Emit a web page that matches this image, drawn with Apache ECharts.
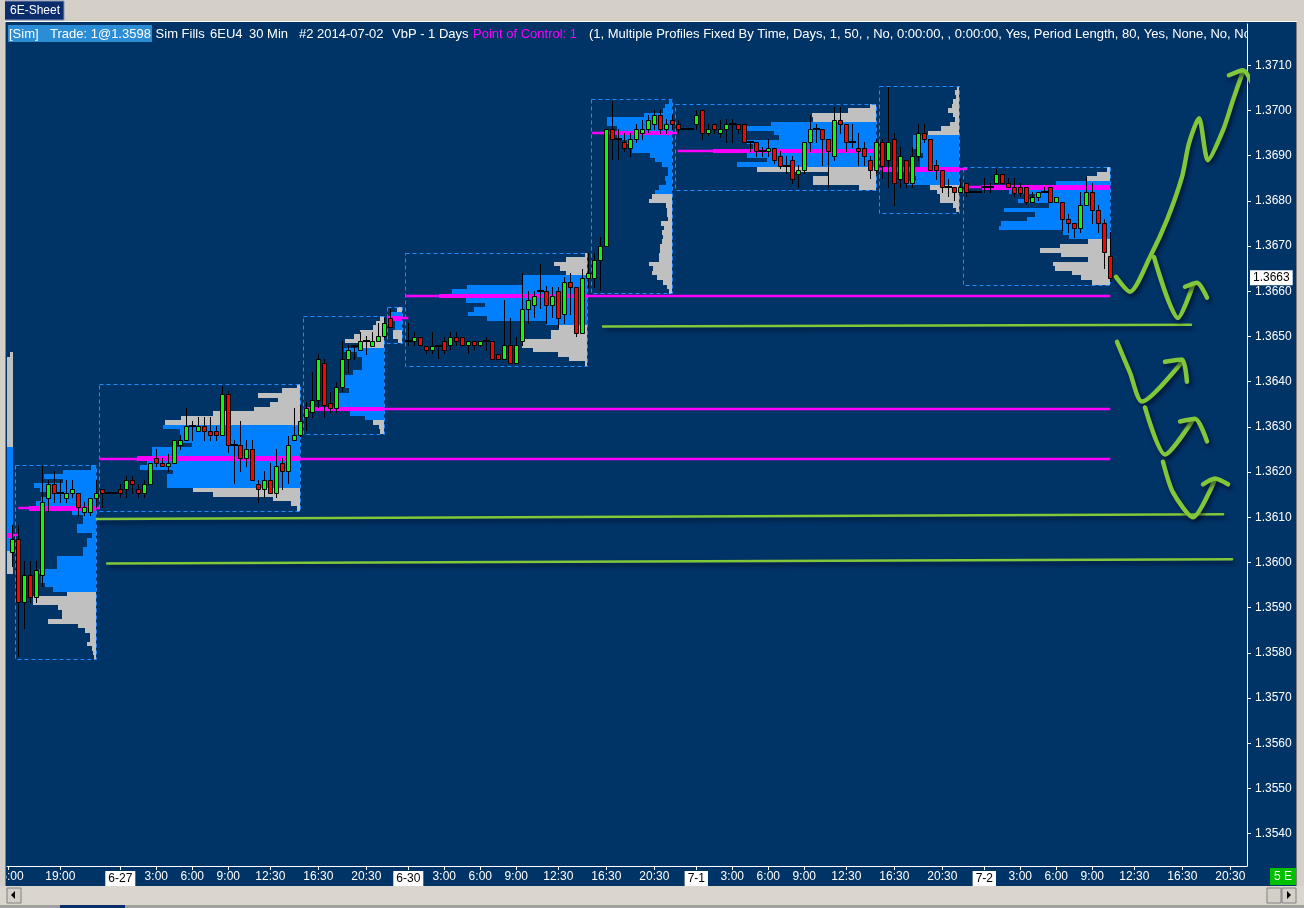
<!DOCTYPE html>
<html>
<head>
<meta charset="utf-8">
<script src="https://cdn.jsdelivr.net/npm/echarts@6.0.0/dist/echarts.min.js"></script>
<style>
html,body{margin:0;padding:0;background:#003366;overflow:hidden;}
#chart{width:1304px;height:908px;}
</style>
</head>
<body>
<div id="chart"></div>
<script>
// ---------- axes ----------
const X_MIN = -0.8833, X_MAX = 205.7833;          // bar-slot units (30-min bars)
const Y_MIN = 1.353285, Y_MAX = 1.371914;
const TICK = 0.0001;
const PX_PER_SLOT = 6;                             // volume units per bar width

const xTickSlots  = [-0.6, 8, 18, 24, 30, 36, 43, 51, 59, 66, 72, 78, 84, 91, 99, 107, 114, 120, 126, 132, 139, 147, 155, 162, 168, 174, 180, 187, 195, 203];
const xTickLabels = ['15:00','19:00','6-27','3:00','6:00','9:00','12:30','16:30','20:30','6-30','3:00','6:00','9:00','12:30','16:30','20:30','7-1','3:00','6:00','9:00','12:30','16:30','20:30','7-2','3:00','6:00','9:00','12:30','16:30','20:30'];
const yTicks = [1.3540,1.3550,1.3560,1.3570,1.3580,1.3590,1.3600,1.3610,1.3620,1.3630,1.3640,1.3650,1.3660,1.3670,1.3680,1.3690,1.3700,1.3710];
const lastPrice = 1.3663;

// ---------- candles: [open, close, low, high] per slot ----------
const ohlc = [
[1.36023,1.36051,1.35992,1.36082],[1.36051,1.35912,1.35793,1.36082],[1.35912,1.35972,1.35855,1.36003],[1.35972,1.35923,1.35912,1.36003],
[1.35923,1.35983,1.35912,1.36003],[1.35972,1.36133,1.35948,1.36213],[1.36142,1.36173,1.36113,1.36182],[1.36173,1.36153,1.36133,1.36202],
[1.36153,1.36153,1.36133,1.36182],[1.36142,1.36153,1.36133,1.36182],[1.36153,1.36162,1.36144,1.36182],[1.36153,1.36122,1.36104,1.36153],
[1.36111,1.36122,1.36104,1.36133],[1.36111,1.36142,1.36104,1.36142],[1.36142,1.36153,1.36122,1.36182],[1.36162,1.36153,1.36122,1.36162],
[1.36153,1.36153,1.36153,1.36153],[1.36153,1.36153,1.36153,1.36153],[1.36162,1.36153,1.36144,1.36173],[1.36162,1.36182,1.36144,1.36191],
[1.36182,1.36173,1.36153,1.36191],[1.36162,1.36153,1.36144,1.36173],[1.36153,1.36173,1.36144,1.36182],[1.36173,1.36221,1.36173,1.36221],
[1.36232,1.36221,1.36213,1.36252],[1.36221,1.36213,1.36213,1.36232],[1.36213,1.36221,1.36202,1.36241],[1.36221,1.36272,1.36221,1.36272],
[1.36261,1.36272,1.36252,1.36281],[1.36272,1.36301,1.36272,1.36341],[1.36301,1.36301,1.36272,1.36312],[1.36292,1.36301,1.36292,1.36321],
[1.36301,1.36292,1.36272,1.36321],[1.36292,1.36281,1.36272,1.36321],[1.36292,1.36281,1.36272,1.36301],[1.36281,1.36372,1.36281,1.36391],
[1.36372,1.36261,1.36244,1.36380],[1.36261,1.36261,1.36175,1.36272],[1.36261,1.36232,1.36202,1.36312],[1.36232,1.36252,1.36213,1.36272],
[1.36252,1.36182,1.36182,1.36272],[1.36173,1.36162,1.36133,1.36182],[1.36162,1.36182,1.36144,1.36202],[1.36182,1.36153,1.36153,1.36221],
[1.36153,1.36213,1.36144,1.36252],[1.36221,1.36202,1.36162,1.36232],[1.36202,1.36261,1.36175,1.36279],[1.36272,1.36281,1.36272,1.36341],
[1.36281,1.36312,1.36279,1.36349],[1.36321,1.36341,1.36294,1.36354],[1.36332,1.36360,1.36321,1.36422],[1.36360,1.36451,1.36345,1.36462],
[1.36442,1.36349,1.36321,1.36451],[1.36352,1.36341,1.36334,1.36378],[1.36341,1.36389,1.36334,1.36400],[1.36389,1.36451,1.36380,1.36491],
[1.36451,1.36471,1.36422,1.36482],[1.36480,1.36480,1.36451,1.36482],[1.36471,1.36491,1.36471,1.36511],[1.36491,1.36491,1.36462,1.36502],
[1.36480,1.36491,1.36480,1.36511],[1.36491,1.36502,1.36491,1.36530],[1.36502,1.36530,1.36500,1.36541],[1.36541,1.36522,1.36522,1.36561],
null,null,
[1.36491,1.36491,1.36482,1.36530],[1.36491,1.36500,1.36482,1.36511],[1.36500,1.36482,1.36482,1.36500],[1.36480,1.36471,1.36464,1.36480],
[1.36471,1.36480,1.36464,1.36511],[1.36480,1.36480,1.36453,1.36480],[1.36489,1.36471,1.36464,1.36500],[1.36482,1.36500,1.36473,1.36511],
[1.36500,1.36491,1.36482,1.36511],[1.36500,1.36482,1.36482,1.36500],[1.36482,1.36489,1.36464,1.36489],[1.36489,1.36482,1.36473,1.36489],
[1.36482,1.36489,1.36480,1.36489],[1.36491,1.36491,1.36471,1.36500],[1.36491,1.36451,1.36451,1.36491],[1.36462,1.36451,1.36451,1.36462],
[1.36451,1.36482,1.36451,1.36581],[1.36482,1.36442,1.36442,1.36541],[1.36442,1.36482,1.36442,1.36500],[1.36489,1.36561,1.36482,1.36641],
[1.36561,1.36581,1.36530,1.36601],[1.36570,1.36590,1.36544,1.36601],[1.36601,1.36601,1.36564,1.36661],[1.36601,1.36570,1.36530,1.36612],
[1.36570,1.36590,1.36544,1.36610],[1.36601,1.36541,1.36522,1.36610],[1.36550,1.36621,1.36530,1.36632],[1.36621,1.36610,1.36550,1.36641],
[1.36610,1.36508,1.36502,1.36610],[1.36508,1.36630,1.36508,1.36650],[1.36630,1.36641,1.36610,1.36685],[1.36630,1.36670,1.36610,1.36685],
[1.36670,1.36700,1.36603,1.36720],[1.36700,1.36959,1.36700,1.36959],[1.36959,1.36937,1.36893,1.37021],[1.36937,1.36937,1.36893,1.36959],
[1.36930,1.36917,1.36910,1.36950],[1.36917,1.36937,1.36899,1.36950],[1.36937,1.36959,1.36930,1.36970],[1.36950,1.36959,1.36937,1.36979],
[1.36959,1.36979,1.36952,1.36990],[1.36970,1.36990,1.36959,1.37001],[1.36990,1.36959,1.36950,1.37001],[1.36959,1.36970,1.36950,1.36981],
[1.36979,1.36970,1.36959,1.36990],[1.36970,1.36959,1.36950,1.36979],[1.36959,1.36959,1.36959,1.36959],[1.36959,1.36959,1.36959,1.36959],
[1.36970,1.36990,1.36959,1.37001],[1.37001,1.36950,1.36937,1.37001],[1.36950,1.36959,1.36945,1.36970],[1.36970,1.36959,1.36950,1.36970],
[1.36950,1.36959,1.36941,1.36979],[1.36959,1.36970,1.36930,1.36981],[1.36970,1.36970,1.36930,1.36981],[1.36970,1.36959,1.36950,1.36970],
[1.36970,1.36930,1.36930,1.36970],[1.36930,1.36930,1.36910,1.36930],[1.36930,1.36910,1.36899,1.36930],[1.36910,1.36910,1.36899,1.36919],
[1.36910,1.36917,1.36899,1.36937],[1.36917,1.36890,1.36884,1.36917],[1.36899,1.36877,1.36873,1.36910],[1.36877,1.36877,1.36862,1.36899],
[1.36890,1.36848,1.36840,1.36899],[1.36859,1.36868,1.36831,1.36879],[1.36868,1.36930,1.36862,1.36930],[1.36930,1.36959,1.36910,1.36990],
[1.36959,1.36959,1.36930,1.36970],[1.36959,1.36937,1.36879,1.36959],[1.36937,1.36910,1.36831,1.36937],[1.36899,1.36979,1.36890,1.37007],
[1.36979,1.36970,1.36950,1.37007],[1.36970,1.36930,1.36910,1.36970],[1.36930,1.36930,1.36919,1.36970],[1.36917,1.36910,1.36879,1.36950],
[1.36917,1.36899,1.36879,1.36930],[1.36890,1.36868,1.36851,1.36899],[1.36868,1.36930,1.36862,1.36937],[1.36930,1.36877,1.36851,1.36937],
[1.36890,1.36930,1.36831,1.37051],[1.36937,1.36840,1.36791,1.36950],[1.36848,1.36899,1.36831,1.36919],[1.36890,1.36840,1.36831,1.36890],
[1.36840,1.36899,1.36831,1.36919],[1.36899,1.36950,1.36890,1.36970],[1.36950,1.36937,1.36930,1.36970],[1.36937,1.36868,1.36868,1.36937],
[1.36879,1.36868,1.36848,1.36890],[1.36868,1.36831,1.36820,1.36868],[1.36831,1.36831,1.36811,1.36848],[1.36831,1.36820,1.36802,1.36831],
[1.36820,1.36831,1.36820,1.36848],[1.36840,1.36820,1.36811,1.36840],[1.36820,1.36820,1.36820,1.36820],[1.36820,1.36820,1.36820,1.36820],
[1.36831,1.36831,1.36820,1.36851],[1.36831,1.36831,1.36820,1.36840],[1.36840,1.36859,1.36840,1.36870],[1.36859,1.36840,1.36840,1.36859],
[1.36840,1.36831,1.36831,1.36851],[1.36831,1.36817,1.36811,1.36851],[1.36831,1.36817,1.36811,1.36840],[1.36831,1.36798,1.36793,1.36831],
[1.36798,1.36809,1.36798,1.36820],[1.36809,1.36820,1.36802,1.36820],[1.36820,1.36820,1.36820,1.36831],[1.36831,1.36798,1.36798,1.36831],
[1.36798,1.36809,1.36798,1.36809],[1.36798,1.36760,1.36736,1.36798],[1.36760,1.36751,1.36731,1.36771],[1.36751,1.36740,1.36720,1.36751],
[1.36740,1.36791,1.36731,1.36820],[1.36791,1.36820,1.36791,1.36853],[1.36820,1.36780,1.36751,1.36840],[1.36780,1.36751,1.36731,1.36791],
[1.36751,1.36687,1.36652,1.36760],[1.36678,1.36630,1.36623,1.36731]
];

// ---------- volume-by-price profiles (row volumes, top row first, 1 tick per row) ----------
const volP0 = [3,6,6,6,6,6,6,6,6,6,6,6,6,6,6,6,6,6,6,6,6,6,6,6,6,6,6,6,6,6,6,6,6,6,6,6,6,6,6,6,6,6,6,6,6,6,6,6,6];
const volA  = [5,33,52,33,62,56,48,55,60,67,24,13,13,19,19,4,9,9,13,13,39,39,39,57,55,55,51,43,29,63,63,38,34,34,48,18,11,6,6,9,4,3,2];
const volB  = [3,18,42,22,30,46,87,119,135,137,120,120,120,108,148,148,163,153,160,127,133,133,133,107,87,27,9,3];
const volC  = [4,8,11,24,30,39,24,40,27,22,22,22,31,44,44,44,35,45,45,45,77,34,19,11,5,4];
const volC2 = [5,11,15,7,7,9,9,4];
const volD  = [2,21,33,27,21,64,64,120,135,148,121,102,113,119,100,41,28,36,36,65,65,54,29,18,2];
const volE  = [3,7,9,28,65,65,55,60,55,45,40,40,22,17,10,4,4,7,6,13,17,20,23,6,5,5,4,11,8,10,9,10,12,12,13,13,23,19,20,15,9,5,3];
const volF  = [6,28,64,63,105,129,102,97,129,123,163,129,109,139,119,48,63,63,17];
const volG  = [2,4,3,6,7,11,6,4,9,18,31,46,46,46,41,36,39,39,76,47,43,52,29,22,19,19,6,3];
const volH  = [3,13,23,54,128,101,75,92,61,106,75,83,109,111,47,41,22,50,70,49,22,57,55,38,29,18];

const profileTopPrice = [1.3646, 1.3621, 1.3639, 1.3654, 1.3656, 1.3668, 1.3702, 1.3701, 1.3705, 1.3687];
const profileBoxLeft  = [null, 0.45, 14.45, 48.45, 62.45, 65.45, 96.45, 110.45, 144.45, 158.45];
const profileRight    = [0.05, 13.95, 47.95, 61.95, 64.95, 95.8, 109.95, 143.95, 157.8, 182.95];
const profileVAFrom   = [21, 0, 9, 7, 1, 5, 0, 4, 11, 3];
const profileVATo     = [43, 27, 22, 22, 4, 15, 20, 13, 21, 15];
const profilePOC      = [40, 9, 16, 20, 2, 9, 7, 10, 18, 4];
const pocLineFrom     = [-0.9, 1.0, 14.6, 48.5, 62.45, 65.5, 96.6, 110.9, 144.6, 158.6];
const pocLineTo       = [1.0, 14.6, 183, 183, 66, 183, 110.8, 143.95, 159.1, 183];

// ---------- hand-drawn annotations [slot, price] ----------
const lineS1 = [[98.45, 1.36522], [196.45, 1.36526]];
const lineS2 = [[14.1, 1.36096], [201.8, 1.36107]];
const lineS3 = [[15.8, 1.35998], [203.3, 1.36007]];
const arrow1 = [[183.95,1.36632],[186.28,1.36599],[189.62,1.36676],[192.45,1.36758],[194.95,1.36853],[196.12,1.36928],[197.78,1.36983],[199.28,1.36890],[201.78,1.36956],[203.45,1.37023],[205.12,1.37087]];
const arrow1Head = [[202.78,1.37078],[205.12,1.37089],[207.12,1.37045]];
const arrow2 = [[190.28,1.36676],[194.28,1.36541],[196.78,1.36614]];
const arrow2Head = [[195.45,1.36610],[197.45,1.36619],[199.12,1.36586]];
const arrow3 = [[184.12,1.36488],[186.28,1.36420],[188.28,1.36356],[194.95,1.36444]];
const arrow3Head = [[192.12,1.36444],[194.95,1.36449],[195.78,1.36400]];
const arrow4 = [[188.78,1.36343],[192.12,1.36239],[196.78,1.36316]];
const arrow4Head = [[194.62,1.36312],[197.12,1.36318],[199.12,1.36268]];
const arrow5 = [[191.78,1.36223],[193.45,1.36155],[196.78,1.36100],[200.45,1.36184]];
const arrow5Head = [[198.45,1.36173],[200.45,1.36186],[202.62,1.36173]];

// ---------- build tables ----------
const FONT = '"Liberation Sans", "DejaVu Sans", sans-serif';
const candleData = [];
ohlc.forEach((d, s) => { if (d) candleData.push([s, d[0], d[1], d[2], d[3]]); });

const profileVols = [volP0, volA, volB, volC, volC2, volD, volE, volF, volG, volH];
const profileRows = [], boxData = [], pocData = [];
profileVols.forEach((vols, i) => {
  const top = profileTopPrice[i];
  vols.forEach((v, k) => {
    const kind = k === profilePOC[i] ? 2 : (k >= profileVAFrom[i] && k <= profileVATo[i] ? 1 : 0);
    profileRows.push([profileRight[i] - v / PX_PER_SLOT, profileRight[i], top - k * TICK, kind]);
  });
  if (profileBoxLeft[i] !== null) {
    boxData.push([profileBoxLeft[i], profileRight[i], top + TICK / 2, top - (vols.length - 1) * TICK - TICK / 2]);
  }
  pocData.push([pocLineFrom[i], pocLineTo[i], top - profilePOC[i] * TICK]);
});
const PROFILE_COLORS = ['#C0C0C0', '#0080FF', '#FF00FF'];

function renderProfile(params, api) {
  const a = api.coord([api.value(0), api.value(2) + TICK / 2]);
  const b = api.coord([api.value(1), api.value(2) - TICK / 2]);
  const x1 = Math.round(a[0]), x2 = Math.round(b[0]), y1 = Math.round(a[1]), y2 = Math.round(b[1]);
  return { type: 'rect', shape: { x: x1, y: y1, width: Math.max(x2 - x1, 1), height: y2 - y1 },
           style: { fill: PROFILE_COLORS[api.value(3)] } };
}
function renderBox(params, api) {
  const a = api.coord([api.value(0), api.value(2)]);
  const b = api.coord([api.value(1), api.value(3)]);
  return { type: 'rect', shape: { x: Math.round(a[0]) + 0.5, y: Math.round(a[1]) + 0.5,
           width: Math.round(b[0] - a[0]), height: Math.round(b[1] - a[1]) },
           style: { fill: null, stroke: '#1E8CFF', lineWidth: 1, lineDash: [4, 3] } };
}
function renderPoc(params, api) {
  const a = api.coord([api.value(0), api.value(2)]);
  const b = api.coord([api.value(1), api.value(2)]);
  const y = Math.round(a[1]);
  return { type: 'line', shape: { x1: a[0], y1: y, x2: b[0], y2: y },
           style: { stroke: '#FF00FF', lineWidth: 2.5 } };
}
function renderCandle(params, api) {
  const s = api.value(0), o = api.value(1), c = api.value(2), l = api.value(3), h = api.value(4);
  const pO = api.coord([s, o]);
  const cx = Math.round(pO[0]);
  const yO = pO[1], yC = api.coord([s, c])[1], yL = api.coord([s, l])[1], yH = api.coord([s, h])[1];
  const ch = [{ type: 'line', shape: { x1: cx + 0.5, y1: Math.round(yH), x2: cx + 0.5, y2: Math.round(yL) + 1 },
                style: { stroke: '#000000', lineWidth: 1 } }];
  if (o === c) {
    const y = Math.round(yO);
    ch.push({ type: 'line', shape: { x1: cx - 3, y1: y, x2: cx + 4, y2: y }, style: { stroke: '#000000', lineWidth: 2 } });
  } else {
    const top = Math.round(Math.min(yO, yC)), bot = Math.round(Math.max(yO, yC));
    ch.push({ type: 'rect', shape: { x: cx - 1.5, y: top + 0.5, width: 4, height: Math.max(bot - top, 2) },
              style: { fill: c > o ? '#00FF00' : '#FF0000', stroke: '#000000', lineWidth: 1 } });
  }
  return { type: 'group', children: ch };
}

function handSeries(data, width) {
  return { type: 'line', data: data, symbol: 'none', clip: false, smooth: 0.25, silent: true, z: 10,
           lineStyle: { color: '#80C83A', width: width, cap: 'round', join: 'round',
                        shadowColor: 'rgba(0,0,20,0.6)', shadowBlur: 4, shadowOffsetX: 2, shadowOffsetY: 3 } };
}

const T = (x, y, text, fill, size) => ({ type: 'text', z: 101, x: x, y: y,
  style: { text: text, fill: fill || '#FFFFFF', font: (size || 12) + 'px ' + FONT, verticalAlign: 'middle', textVerticalAlign: 'middle' } });

const option = {
  backgroundColor: '#003366',
  animation: false,
  textStyle: { fontFamily: FONT },
  grid: { left: 7, right: 57, top: 24, bottom: 42, containLabel: false, outerBoundsMode: 'none' },
  xAxis: {
    type: 'value', min: X_MIN, max: X_MAX,
    axisLine: { show: true, onZero: false, lineStyle: { color: '#FFFFFF', width: 1 } },
    axisTick: { show: true, customValues: xTickSlots, length: 4, lineStyle: { color: '#FFFFFF' } },
    axisLabel: {
      customValues: xTickSlots, color: '#FFFFFF', fontSize: 12, fontFamily: FONT, margin: 5,
      formatter: function (v) {
        let idx = 0, best = 1e9;
        xTickSlots.forEach((s, i) => { if (Math.abs(s - v) < best) { best = Math.abs(s - v); idx = i; } });
        const lab = xTickLabels[idx];
        return lab.indexOf('-') >= 0 ? '{d|' + lab + '}' : lab;
      },
      rich: { d: { backgroundColor: '#FFFFFF', color: '#000000', padding: [2, 3, 1, 3], fontSize: 12, fontFamily: FONT } }
    },
    splitLine: { show: false }
  },
  yAxis: {
    type: 'value', position: 'right', min: Y_MIN, max: Y_MAX,
    axisLine: { show: true, onZero: false, lineStyle: { color: '#FFFFFF', width: 1 } },
    axisTick: { show: true, customValues: yTicks, length: 4, lineStyle: { color: '#FFFFFF' } },
    axisLabel: { customValues: yTicks, color: '#FFFFFF', fontSize: 12, fontFamily: FONT, margin: 8,
                 formatter: v => v.toFixed(4) },
    splitLine: { show: false }
  },
  series: [
    { type: 'custom', name: 'profiles', renderItem: renderProfile, data: profileRows, z: 1, silent: true, clip: false },
    { type: 'custom', name: 'boxes', renderItem: renderBox, data: boxData, z: 2, silent: true },
    { type: 'custom', name: 'poc', renderItem: renderPoc, data: pocData, z: 3, silent: true, clip: false },
    { type: 'custom', name: 'candles', renderItem: renderCandle, data: candleData, z: 4, silent: true },
    { type: 'scatter', name: 'last', data: [[X_MAX, lastPrice]], z: 20, silent: true, clip: false,
      emphasis: { disabled: true },
      symbol: 'rect', symbolSize: [2, 2], itemStyle: { color: 'rgba(0,0,0,0)', opacity: 1 },
      label: { show: true, position: 'right', distance: 2, formatter: () => lastPrice.toFixed(4), opacity: 1,
               backgroundColor: '#FFFFFF', color: '#000000', textBorderWidth: 0, padding: [2, 3, 1, 3], fontSize: 12, fontFamily: FONT } },
    handSeries(lineS1, 2.5), handSeries(lineS2, 2.5), handSeries(lineS3, 2.5),
    handSeries(arrow1, 4.5), handSeries(arrow1Head, 4.5),
    handSeries(arrow2, 4.5), handSeries(arrow2Head, 4.5),
    handSeries(arrow3, 4.5), handSeries(arrow3Head, 4.5),
    handSeries(arrow4, 4.5), handSeries(arrow4Head, 4.5),
    handSeries(arrow5, 4.5), handSeries(arrow5Head, 4.5)
  ],
  graphic: { elements: [
    // window chrome
    { type: 'rect', z: 100, shape: { x: 0, y: 0, width: 1304, height: 21 }, style: { fill: '#D4D0C8' } },
    { type: 'rect', z: 100, shape: { x: 0, y: 21, width: 1304, height: 1 }, style: { fill: '#FFFFFF' } },
    { type: 'rect', z: 100, shape: { x: 2, y: 1, width: 62, height: 19 }, style: { fill: '#0A2D6E', stroke: '#8090B0', lineWidth: 1 } },
    T(10, 11, '6E-Sheet'),
    { type: 'rect', z: 100, shape: { x: 0, y: 0, width: 5, height: 908 }, style: { fill: '#D4D0C8' } },
    { type: 'rect', z: 100, shape: { x: 5, y: 22, width: 1, height: 864 }, style: { fill: '#808080' } },
    { type: 'rect', z: 100, shape: { x: 1297, y: 0, width: 7, height: 908 }, style: { fill: '#D4D0C8' } },
    { type: 'rect', z: 100, shape: { x: 1296, y: 22, width: 1, height: 864 }, style: { fill: '#808080' } },
    { type: 'rect', z: 100, shape: { x: 0, y: 886, width: 1304, height: 22 }, style: { fill: '#DAD6CE' } },
    { type: 'rect', z: 101, shape: { x: 7, y: 888, width: 14, height: 15 }, style: { fill: '#D4D0C8', stroke: '#808080', lineWidth: 1 } },
    { type: 'polygon', z: 102, shape: { points: [[11, 895], [15, 891], [15, 899]] }, style: { fill: '#000000' } },
    { type: 'rect', z: 101, shape: { x: 1267, y: 888, width: 14, height: 15 }, style: { fill: '#D4D0C8', stroke: '#808080', lineWidth: 1 } },
    { type: 'rect', z: 101, shape: { x: 1282, y: 888, width: 14, height: 15 }, style: { fill: '#D4D0C8', stroke: '#808080', lineWidth: 1 } },
    { type: 'polygon', z: 102, shape: { points: [[1291, 895], [1287, 891], [1287, 899]] }, style: { fill: '#000000' } },
    { type: 'rect', z: 101, shape: { x: 0, y: 905, width: 1304, height: 3 }, style: { fill: '#A0A0A0' } },
    { type: 'rect', z: 102, shape: { x: 60, y: 905, width: 65, height: 3 }, style: { fill: '#0A2D6E' } },
    // status box
    { type: 'rect', z: 101, shape: { x: 1270, y: 868, width: 26, height: 17 }, style: { fill: '#00C000' } },
    T(1274, 877, '5 E'),
    // info line
    { type: 'rect', z: 100, shape: { x: 8, y: 25, width: 144, height: 17 }, style: { fill: '#2B8DD6' } },
    T(9, 34, '[Sim]', null, 13),
    T(50, 34, 'Trade: 1@1.3598', null, 13),
    T(155.6, 34, 'Sim Fills', null, 13),
    T(210, 34, '6EU4', null, 13),
    T(249, 34, '30 Min', null, 13),
    T(299, 34, '#2 2014-07-02', null, 13),
    T(392, 34, 'VbP - 1 Days', null, 13),
    T(473, 34, 'Point of Control: 1', '#FF00FF', 13),
    T(589, 34, '(1, Multiple Profiles Fixed By Time, Days, 1, 50, , No, 0:00:00, , 0:00:00, Yes, Period Length, 80, Yes, None, No, No', null, 13),
    { type: 'rect', z: 102, shape: { x: 1248, y: 22, width: 48, height: 22 }, style: { fill: '#003366' } }
  ] }
};

const chart = echarts.init(document.getElementById('chart'), null, { renderer: 'canvas' });
chart.setOption(option);
</script>
</body>
</html>
